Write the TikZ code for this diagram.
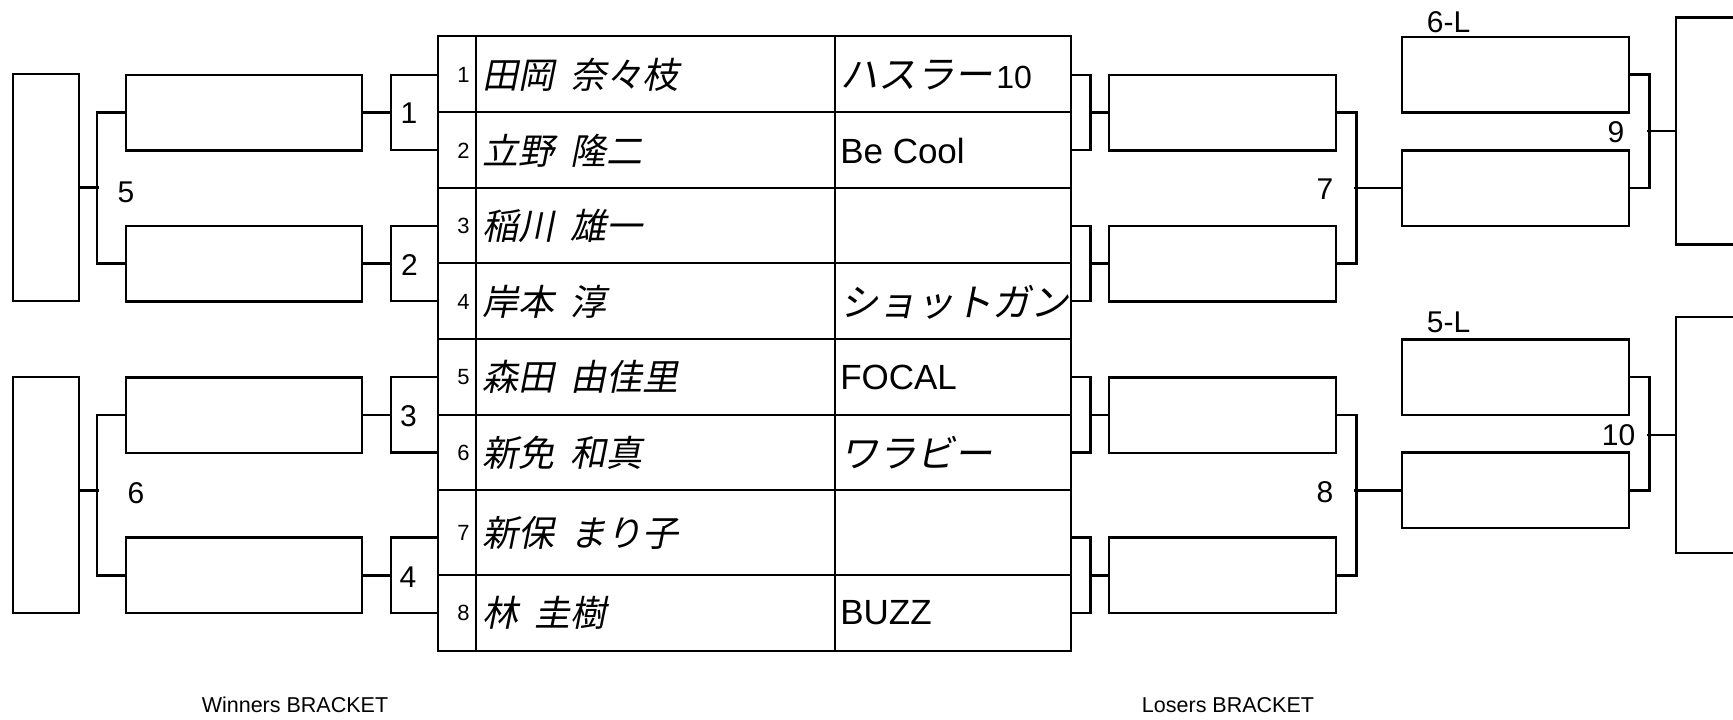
\documentclass[tikz,border=0pt]{standalone}
\usepackage{fontspec}
\setmainfont{Liberation Sans}
\newfontfamily\jpit[FakeSlant=0.2, WordSpace=2]{Noto Sans CJK JP}

\tikzset{
 slot/.style={draw, inner sep=0pt, minimum width=236pt, minimum height=75.5pt},
 lslot/.style={slot, minimum width=227pt},
 seed/.style={inner sep=0pt, font=\fontsize{22}{24}\selectfont},
 player/.style={anchor=west, inner sep=0pt, font=\jpit\fontsize{36}{40}\selectfont},
 team/.style={anchor=west, inner sep=0pt, font=\fontsize{35}{40}\selectfont},
 kana/.style={team, font=\jpit\fontsize{38}{40}\selectfont},
 match/.style={inner sep=0pt, font=\fontsize{30}{32}\selectfont},
 caption/.style={inner sep=0pt, font=\fontsize{21.5}{24}\selectfont}
}

\begin{document}
\begin{tikzpicture}[x=1pt,y=-1pt,line width=2.5pt]
 \useasboundingbox (0,0) rectangle (1733,720);
 \clip (0,0) rectangle (1733,720);

 % entry table
 \draw (438,36) rectangle (1071,651);
 \draw (476,36) -- (476,651);
 \draw (835,36) -- (835,651);
 \foreach \y in {112,188,263,339,415,490,575}
  \draw (438,\y) -- (1071,\y);

 \node[seed] (n1) at (463.5,75) {1};
 \node[seed] (n2) at (463.5,151) {2};
 \node[seed] (n3) at (463.5,226) {3};
 \node[seed] (n4) at (463.5,302) {4};
 \node[seed] (n5) at (463.5,377) {5};
 \node[seed] (n6) at (463.5,453) {6};
 \node[seed] (n7) at (463.5,533) {7};
 \node[seed] (n8) at (463.5,613) {8};

 \node[player] (p1) at (481,75) {田岡 奈々枝};
 \node[player] (p2) at (481,151) {立野 隆二};
 \node[player] (p3) at (481,226) {稲川 雄一};
 \node[player] (p4) at (481,302) {岸本 淳};
 \node[player] (p5) at (481,377) {森田 由佳里};
 \node[player] (p6) at (481,453) {新免 和真};
 \node[player] (p7) at (481,533) {新保 まり子};
 \node[player] (p8) at (481,613) {林 圭樹};

 \node[team] (t1) at (839,75) {{\jpit\fontsize{38}{40}\selectfont ハスラー}\kern4pt{\fontsize{32}{36}\selectfont 10}};
 \node[team] (t2) at (839,151) {Be Cool};
 \node[kana] (t4) at (839,302) {ショットガン};
 \node[team] (t5) at (839,377) {FOCAL};
 \node[kana] (t6) at (839,453) {ワラビー};
 \node[team] (t8) at (839,613) {BUZZ};

 \coordinate (a1) at (438,75);
 \coordinate (a2) at (438,150);
 \coordinate (a3) at (438,226);
 \coordinate (a4) at (438,301);
 \coordinate (a5) at (438,377);
 \coordinate (a6) at (438,452.5);
 \coordinate (a7) at (438,537.5);
 \coordinate (a8) at (438,613);
 \coordinate (b1) at (1071,75);
 \coordinate (b2) at (1071,150);
 \coordinate (b3) at (1071,226);
 \coordinate (b4) at (1071,301);
 \coordinate (b5) at (1071,377);
 \coordinate (b6) at (1071,452.5);
 \coordinate (b7) at (1071,537.5);
 \coordinate (b8) at (1071,613);

 % winners side
 \node[slot] (W1) at (244,112.5) {};
 \node[slot] (W2) at (244,263.5) {};
 \node[slot] (W3) at (244,415) {};
 \node[slot] (W4) at (244,575.25) {};
 \node[slot, minimum width=66pt, minimum height=227pt] (WF1) at (46,187.5) {};
 \node[slot, minimum width=66pt, minimum height=236pt] (WF2) at (46,495) {};

 \draw (a1) -- ++(-47,0) |- (a2);
 \draw (a3) -- ++(-47,0) |- (a4);
 \draw (a5) -- ++(-47,0) |- (a6);
 \draw (a7) -- ++(-47,0) |- (a8);
 \draw (W1.east) -- ++(29,0);
 \draw (W2.east) -- ++(29,0);
 \draw (W3.east) -- ++(29,0);
 \draw (W4.east) -- ++(29,0);
 \draw (W1.west) -- ++(-28,0) |- (W2.west);
 \draw (W3.west) -- ++(-28,0) |- (W4.west);
 \draw (WF1.east) -- ++(19,0);
 \draw ([yshift=4.5pt]WF2.east) -- ++(19,0);

 \node[match] (m1) at (409,113) {1};
 \node[match] (m2) at (409.5,265) {2};
 \node[match] (m3) at (408.5,416) {3};
 \node[match] (m4) at (408,577) {4};
 \node[match] (m5) at (126,192) {5};
 \node[match] (m6) at (136,493) {6};

 % losers side
 \node[lslot] (L1) at (1222.5,112.5) {};
 \node[lslot] (L2) at (1222.5,263.5) {};
 \node[lslot] (L3) at (1222.5,415) {};
 \node[lslot] (L4) at (1222.5,575.25) {};
 \node[lslot] (S1) at (1515.5,74.5) {};
 \node[lslot] (S2) at (1515.5,188) {};
 \node[lslot] (S3) at (1515.5,377) {};
 \node[lslot] (S4) at (1515.5,490.3) {};
 \node[slot, minimum width=200pt, minimum height=227pt] (F1) at (1776,131) {};
 \node[slot, minimum width=200pt, minimum height=236pt] (F2) at (1776,435) {};

 \draw (b1) -- ++(19.5,0) |- (b2);
 \draw (b3) -- ++(19.5,0) |- (b4);
 \draw (b5) -- ++(19.5,0) |- (b6);
 \draw (b7) -- ++(19.5,0) |- (b8);
 \draw (L1.west) -- ++(-18.5,0);
 \draw (L2.west) -- ++(-18.5,0);
 \draw (L3.west) -- ++(-18.5,0);
 \draw (L4.west) -- ++(-18.5,0);
 \draw (L1.east) -- ++(19,0) |- (L2.east);
 \draw (L3.east) -- ++(19,0) |- (L4.east);
 \draw (S2.west) -- ++(-47,0);
 \draw (S4.west) -- ++(-47,0);
 \draw (S1.east) -- ++(19,0) |- (S2.east);
 \draw (S3.east) -- ++(19,0) |- (S4.east);
 \draw (F1.west) -- ++(-28,0);
 \draw (F2.west) -- ++(-28,0);

 \node[match] (m7) at (1325,189) {7};
 \node[match] (m8) at (1325,492) {8};
 \node[match] (m9) at (1616,132.5) {9};
 \node[match] (m10) at (1618.5,435) {10};
 \node[match] (l6) at (1448.5,22) {6-L};
 \node[match] (l5) at (1448.5,322) {5-L};

 \node[caption] (wb) at (295,705) {Winners BRACKET};
 \node[caption] (lb) at (1228,705) {Losers BRACKET};
\end{tikzpicture}
\end{document}
